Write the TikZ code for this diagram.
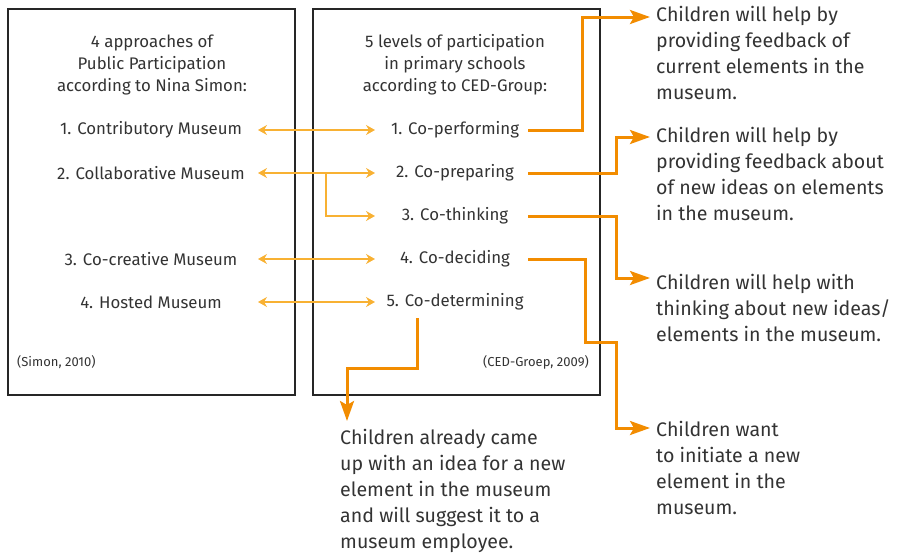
\documentclass[tikz,border=0pt]{standalone}
\usepackage{fontspec}
\setmainfont{Fira Sans}
\usetikzlibrary{arrows.meta}
\definecolor{lor}{HTML}{F8B133}
\definecolor{dor}{HTML}{F28C00}
\definecolor{txt}{HTML}{333333}
\tikzset{
  boxframe/.style={draw=black!85, line width=1.8pt},
  item/.style={inner sep=0pt, text=txt, font=\fontsize{16.8}{22}\selectfont, align=center},
  small/.style={inner sep=0pt, text=txt, font=\fontsize{13}{15}\selectfont},
  desc/.style={inner sep=0pt, text=txt, font=\fontsize{19.6}{26}\selectfont, align=left, anchor=north west},
  thinarr/.style={draw=lor, line width=1.3pt, {Stealth[length=9pt,width=10pt,inset=3pt]}-{Stealth[length=9pt,width=10pt,inset=3pt]}},
  thinone/.style={draw=lor, line width=1.3pt, -{Stealth[length=9pt,width=10pt,inset=3pt]}},
  bigarr/.style={draw=dor, line width=3pt, -{Stealth[length=20pt,width=14pt,inset=4pt]}, line join=miter}
}
\begin{document}
\begin{tikzpicture}[x=1pt,y=-1pt]
\useasboundingbox (0,0) rectangle (897,554);
% boxes
\node[boxframe, minimum width=287pt, minimum height=386pt, anchor=north west, inner sep=0pt] (boxA) at (7,8) {};
\node[boxframe, minimum width=287pt, minimum height=386pt, anchor=north west, inner sep=0pt] (boxB) at (312,8) {};
% left box texts
\node[item] (titleA) at (152,65) {4 approaches of\\Public Participation\\according to Nina Simon:};
\node[item] (l1) at (151,130) {1. Contributory Museum};
\node[item] (l2) at (151,173) {2. Collaborative Museum};
\node[item] (l3) at (151,259) {3. Co-creative Museum};
\node[item] (l4) at (151,302) {4. Hosted Museum};
\node[small, anchor=west] (srcA) at (17,362) {(Simon, 2010)};
% right box texts
\node[item] (titleB) at (455,65) {5 levels of participation\\in primary schools\\according to CED-Group:};
\node[item] (r1) at (455,130) {1. Co-performing};
\node[item] (r2) at (455,173) {2. Co-preparing};
\node[item] (r3) at (455,216) {3. Co-thinking};
\node[item] (r4) at (455,259) {4. Co-deciding};
\node[item] (r5) at (455,302) {5. Co-determining};
\node[small, anchor=east] (srcB) at (589,362) {(CED-Groep, 2009)};
% descriptions
\node[desc] (t1) at (656,6) {Children will help by\\providing feedback of\\current elements in the\\museum.};
\node[desc] (t2) at (656,127) {Children will help by\\providing feedback about\\of new ideas on elements\\in the museum.};
\node[desc] (t3) at (656,274) {Children will help with\\thinking about new ideas/\\elements in the museum.};
\node[desc] (t4) at (656,421) {Children want\\to initiate a new\\element in the\\museum.};
\node[desc] (t5) at (340,429) {Children already came\\up with an idea for a new\\element in the museum\\and will suggest it to a\\museum employee.};
% connector columns
\coordinate (L) at (258,0);
\coordinate (R) at (375,0);
\coordinate (S) at (528,0);
% thin arrows
\draw[thinarr] (L |- l1) -- (R |- r1);
\draw[thinarr] (L |- l2) -- (R |- r2);
\draw[thinarr] (L |- l3) -- (R |- r4);
\draw[thinarr] (L |- l4) -- (R |- r5);
\coordinate (br) at (326,173);
\draw[thinone] (br) |- (R |- r3);
% thick arrows
\coordinate (e1) at (650,17);
\coordinate (e2) at (650,137);
\coordinate (e3) at (650,278);
\coordinate (e4) at (650,428);
\coordinate (c1) at (582,0);
\coordinate (c2) at (616,0);
\coordinate (c4) at (585,342);
\draw[bigarr] (S |- r1) -- (c1 |- r1) |- (e1);
\draw[bigarr] (S |- r2) -- (c2 |- r2) |- (e2);
\draw[bigarr] (S |- r3) -- (c2 |- r3) |- (e3);
\draw[bigarr] (S |- r4) -- (c4 |- r4) -- (c4) -- (c2 |- c4) |- (e4);
\coordinate (s5) at (417,318);
\coordinate (e5) at (347,421);
\draw[bigarr] (s5) -- (417,368) -| (e5);
\end{tikzpicture}
\end{document}
